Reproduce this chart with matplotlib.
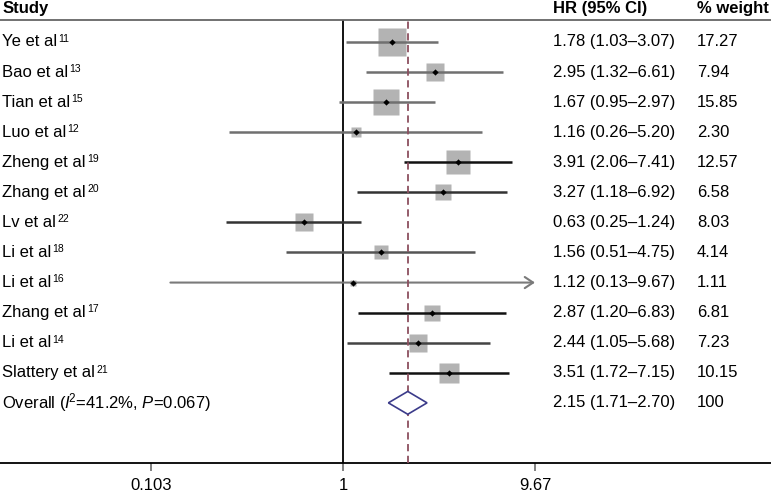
import numpy as np
from matplotlib import pyplot as plt

plt.rcParams['font.family'] = ['Liberation Sans', 'DejaVu Sans']
plt.rcParams['mathtext.fontset'] = 'custom'
plt.rcParams['mathtext.rm'] = 'Liberation Sans'
plt.rcParams['mathtext.it'] = 'Liberation Sans:italic'

# data
studies = ["Ye et al", "Bao et al", "Tian et al", "Luo et al", "Zheng et al", "Zhang et al",
           "Lv et al", "Li et al", "Li et al", "Zhang et al", "Li et al", "Slattery et al"]
refs = ["11", "13", "15", "12", "19", "20", "22", "18", "16", "17", "14", "21"]
hr = [1.78, 2.95, 1.67, 1.16, 3.91, 3.27, 0.63, 1.56, 1.12, 2.87, 2.44, 3.51]
lower = [1.03, 1.32, 0.95, 0.26, 2.06, 1.18, 0.25, 0.51, 0.13, 1.20, 1.05, 1.72]
upper = [3.07, 6.61, 2.97, 5.20, 7.41, 6.92, 1.24, 4.75, 9.67, 6.83, 5.68, 7.15]
weight = [17.27, 7.94, 15.85, 2.30, 12.57, 6.58, 8.03, 4.14, 1.11, 6.81, 7.23, 10.15]

overall_label = "Overall ($I^{\\!\\mathregular{2}}$=41.2%, $P$=0.067)"
overall_hr = 2.15
overall_lo = 1.71
overall_hi = 2.70
overall_weight = "100"

xtick_vals = [0.103, 1, 9.67]
xtick_labels = ["0.103", "1", "9.67"]

# styling
line_colors = ["#707070", "#707070", "#707070", "#707070", "#111111", "#333333",
               "#333333", "#555555", "#7a7a7a", "#111111", "#444444", "#111111"]
clipped = [False] * 8 + [True] + [False] * 3   # CI drawn with an arrow


def draw():
    fig = plt.figure(figsize=(7.71, 4.92), dpi=100)
    ax = fig.add_axes([0, 29 / 492, 1, 443 / 492])
    ax.set_xscale('log')
    ax.set_xlim(10 ** (-343 / 194.8), 10 ** ((771 - 343) / 194.8))
    ax.set_ylim(14, -0.731)

    n = len(studies)
    rows = np.arange(n)
    yt = ax.get_yaxis_transform()

    ax.axvline(1, color='black', lw=1.3, zorder=1)
    ax.axvline(overall_hr, color='#8c4f5f', lw=1.3, ls=(0, (4, 2.5)), zorder=4)

    for i in range(n):
        c = line_colors[i]
        if clipped[i]:
            ax.annotate('', xy=(upper[i], rows[i]), xytext=(lower[i], rows[i]),
                        arrowprops=dict(arrowstyle='->,head_length=0.6,head_width=0.4',
                                        color=c, lw=1.5, shrinkA=0, shrinkB=0,
                                        mutation_scale=10), zorder=3)
        else:
            ax.plot([lower[i], upper[i]], [rows[i], rows[i]], color=c, lw=1.8, zorder=3,
                    solid_capstyle='butt')
        side = 4.68 * np.sqrt(weight[i])
        ax.plot(hr[i], rows[i], marker='s', ms=side, color='#b3b3b3', mec='none', zorder=2)
        ax.plot(hr[i], rows[i], marker='D', ms=3.2, color='black', mec='none', zorder=5)

    # overall diamond
    yo = n
    h = 0.38
    dx = [overall_lo, overall_hr, overall_hi, overall_hr, overall_lo]
    dy = [yo, yo - h, yo, yo + h, yo]
    ax.fill(dx, dy, facecolor='white', edgecolor='#3b3b8a', lw=1.2, zorder=6)

    # text columns
    fs = 12
    ax.text(0.003, -1.13, "Study", transform=yt, fontsize=fs, fontweight='bold', va='center')
    ax.text(0.717, -1.13, "HR (95% CI)", transform=yt, fontsize=fs, fontweight='bold', va='center')
    ax.text(0.904, -1.13, "% weight", transform=yt, fontsize=fs, fontweight='bold', va='center')
    for i in range(n):
        t = ax.text(0.003, rows[i], studies[i], transform=yt, fontsize=fs, va='center')
        ax.annotate(refs[i], xy=(1.0, 1.0), xycoords=t, xytext=(0.8, 0.5),
                    textcoords='offset points', fontsize=7.5, va='top', ha='left')
        ax.text(0.717, rows[i], f"{hr[i]:.2f} ({lower[i]:.2f}\u2013{upper[i]:.2f})",
                transform=yt, fontsize=fs, va='center')
        ax.text(0.904, rows[i], f"{weight[i]:.2f}", transform=yt, fontsize=fs, va='center')
    ax.text(0.003, yo, overall_label, transform=yt, fontsize=fs, va='center')
    ax.text(0.717, yo, f"{overall_hr:.2f} ({overall_lo:.2f}\u2013{overall_hi:.2f})",
            transform=yt, fontsize=fs, va='center')
    ax.text(0.904, yo, overall_weight, transform=yt, fontsize=fs, va='center')

    for s in ['left', 'right']:
        ax.spines[s].set_visible(False)
    ax.spines['top'].set_color('#666666')
    ax.spines['top'].set_linewidth(1.3)
    ax.spines['bottom'].set_color('black')
    ax.spines['bottom'].set_linewidth(1.3)
    ax.set_yticks([])
    ax.set_xticks(xtick_vals)
    ax.set_xticklabels(xtick_labels, fontsize=fs)
    ax.minorticks_off()
    ax.tick_params(axis='x', direction='out', length=6, width=1.3, color='#777777', pad=5)

    fig.savefig('out.png', dpi=100)


def main():
    draw()


if __name__ == '__main__':
    main()
